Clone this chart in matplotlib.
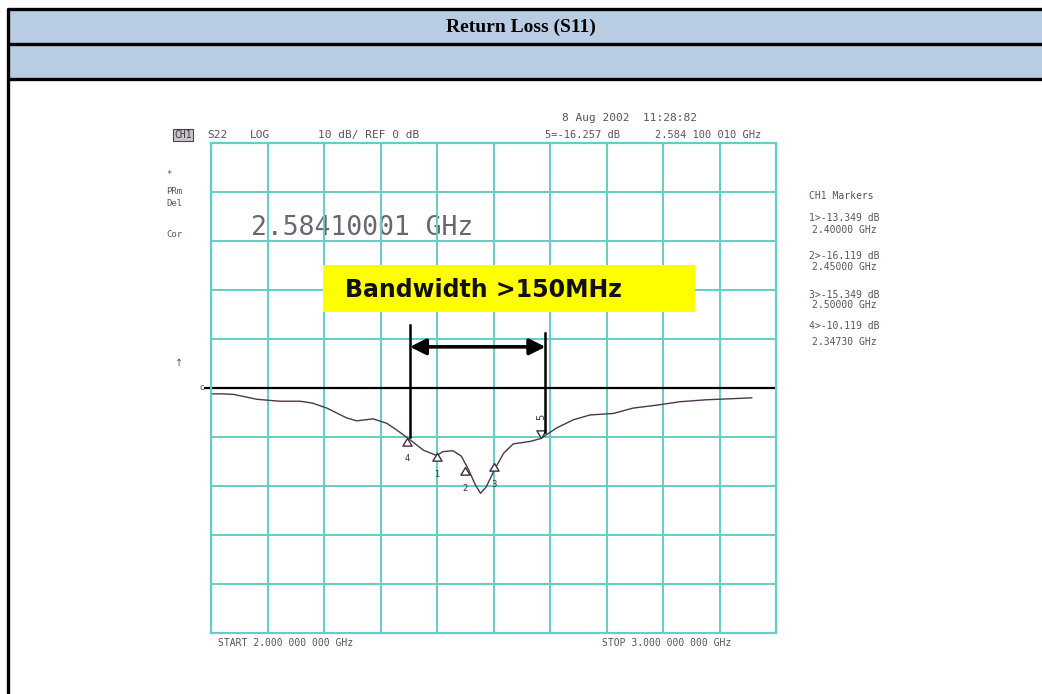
import matplotlib
matplotlib.use('Agg')
import matplotlib.pyplot as plt
from matplotlib.patches import Rectangle
import numpy as np

# S11 trace (GHz, dB)
freq_ghz = [2.000, 2.020, 2.040, 2.081, 2.122, 2.158, 2.180, 2.205, 2.240, 2.258,
            2.287, 2.311, 2.329, 2.347, 2.376, 2.400, 2.410, 2.428, 2.443, 2.456,
            2.468, 2.477, 2.487, 2.503, 2.518, 2.535, 2.565, 2.584, 2.611, 2.641,
            2.671, 2.712, 2.747, 2.789, 2.830, 2.877, 2.919, 2.957]
s11_db = [-1.2, -1.2, -1.3, -2.3, -2.7, -2.7, -3.1, -4.1, -6.1, -6.7,
          -6.3, -7.2, -8.6, -10.1, -12.7, -13.8, -13.0, -12.8, -13.9, -16.7,
          -19.8, -21.5, -20.2, -16.4, -13.3, -11.4, -10.9, -10.3, -8.2, -6.5,
          -5.5, -5.2, -4.1, -3.5, -2.8, -2.4, -2.2, -2.0]

# markers 1-4 plus the active marker 5
marker_ids = ['1', '2', '3', '4', '5']
marker_freq = [2.40000, 2.45000, 2.50000, 2.34730, 2.58410]
marker_db = [-13.349, -16.119, -15.349, -10.119, -10.257]
marker_lines = ['1>-13.349 dB', '2.40000 GHz', '2>-16.119 dB', '2.45000 GHz',
                '3>-15.349 dB', '2.50000 GHz', '4>-10.119 dB', '2.34730 GHz']
marker_line_y = [218, 230, 256, 267, 295, 305, 326, 342]

# bandwidth bracket as drawn on the screenshot
bw_edges = [2.352, 2.592]
bw_tops = [12.9, 11.2]
bw_bottoms = [-10.1, -9.0]
bw_arrow_db = 8.4

start_ghz, stop_ghz = 2.0, 3.0
ref_db, scale_db = 0, 10

W, H = 1042, 694
grid_col = '#62cfc6'
txt_col = '#5a5262'
mono = 'DejaVu Sans Mono'

fig = plt.figure(figsize=(W / 100, H / 100), dpi=100)

# background / table frame in pixel coordinates
bg = fig.add_axes([0, 0, 1, 1])
bg.set_xlim(0, W)
bg.set_ylim(H, 0)
bg.axis('off')
bg.set_zorder(0)
bg.add_patch(Rectangle((8, 9), W - 8, 34, facecolor='#b8cce4', edgecolor='none'))
bg.add_patch(Rectangle((8, 44), W - 8, 34, facecolor='#b8cce4', edgecolor='none'))
for yy in [9, 44, 79]:
    bg.plot([7, W], [yy, yy], color='black', lw=2.4, solid_capstyle='butt')
bg.plot([8, 8], [8, H], color='black', lw=2.4, solid_capstyle='butt')
bg.text(521, 27, 'Return Loss (S11)', ha='center', va='center', fontsize=14,
        fontweight='bold', family='Liberation Serif')

# instrument annotations
bg.text(562, 118, '8 Aug 2002  11:28:82', fontsize=8, family=mono, color=txt_col, va='center')
bg.text(183, 135, 'CH1', fontsize=7, family=mono, color='#3a3440', va='center', ha='center',
        bbox=dict(boxstyle='square,pad=0.15', facecolor='#c9c4cc', edgecolor='#4a4450', lw=0.8))
bg.text(207, 135, 'S22', fontsize=8, family=mono, color=txt_col, va='center')
bg.text(250, 135, 'LOG', fontsize=8, family=mono, color=txt_col, va='center')
bg.text(318, 135, '10 dB/ REF 0 dB', fontsize=8, family=mono, color=txt_col, va='center')
bg.text(545, 135, '5=-16.257 dB', fontsize=7.5, family=mono, color=txt_col, va='center')
bg.text(655, 135, '2.584 100 010 GHz', fontsize=7.5, family=mono, color=txt_col, va='center')

for lab, yy in [('*', 174), ('PRm', 191), ('Del', 203), ('Cor', 234)]:
    bg.text(166, yy, lab, fontsize=6.5, family=mono, color=txt_col, va='center')
bg.text(179, 363, '\u2191', fontsize=7, color=txt_col, va='center', ha='center')
bg.text(251, 228, '2.58410001 GHz', fontsize=19, family=mono, color='#6c6472', va='center')

bg.text(809, 196, 'CH1 Markers', fontsize=7, family=mono, color=txt_col, va='center')
for i, line in enumerate(marker_lines):
    bg.text(809 if i % 2 == 0 else 812, marker_line_y[i], line, fontsize=7, family=mono,
            color=txt_col, va='center')

bg.text(218, 643, 'START 2.000 000 000 GHz', fontsize=7, family=mono, color=txt_col, va='center')
bg.text(602, 643, 'STOP 3.000 000 000 GHz', fontsize=7, family=mono, color=txt_col, va='center')

# graticule
ax = fig.add_axes([211 / W, (H - 633) / H, 565 / W, 490 / H])
ax.set_zorder(1)
ax.set_facecolor('none')
ax.set_xlim(start_ghz, stop_ghz)
ax.set_ylim(ref_db - 5 * scale_db, ref_db + 5 * scale_db)
ax.set_xticks(np.linspace(start_ghz, stop_ghz, 11))
ax.set_yticks(np.arange(ref_db - 5 * scale_db, ref_db + 5 * scale_db + 1, scale_db))
ax.grid(True, color=grid_col, lw=1.4)
ax.tick_params(length=0, labelbottom=False, labelleft=False)
for sp in ax.spines.values():
    sp.set_color(grid_col)
    sp.set_linewidth(1.6)

# reference line and trace
ax.plot([start_ghz - 0.011, stop_ghz], [ref_db, ref_db], color='black', lw=1.6, clip_on=False)
ax.text(start_ghz - 0.012, ref_db, 'c', fontsize=6, color=txt_col, ha='right', va='center',
        clip_on=False)
ax.plot(freq_ghz, s11_db, color='#4f3650', lw=1.0)

# markers: triangles with tip on the trace
tri_up = [(0, 0), (-0.6, -1.0), (0.6, -1.0), (0, 0)]
tri_dn = [(0, 0), (-0.6, 1.0), (0.6, 1.0), (0, 0)]
for mid, f, v in zip(marker_ids, marker_freq, marker_db):
    if mid == '5':
        ax.plot([f], [v], marker=tri_dn, ms=11, mfc='white', mec='#3a3040', mew=1.0)
        ax.text(f, v + 4.4, mid, fontsize=7, color='#3a3040', ha='center', va='center', rotation=90)
    else:
        ax.plot([f], [v], marker=tri_up, ms=11, mfc='white', mec='#3a3040', mew=1.0)
        ax.text(f, v - 4.3, mid, fontsize=6, color='#3a3040', ha='center', va='center')

# bandwidth bracket
for f, top, bot in zip(bw_edges, bw_tops, bw_bottoms):
    ax.plot([f, f], [bot, top], color='black', lw=1.8)
ax.annotate('', xy=(bw_edges[1], bw_arrow_db), xytext=(bw_edges[0], bw_arrow_db),
            arrowprops=dict(arrowstyle='<|-|>', color='black', lw=2.6,
                            mutation_scale=24, shrinkA=0, shrinkB=0))

# yellow label box on top of the graticule
lab_ax = fig.add_axes([0, 0, 1, 1])
lab_ax.set_xlim(0, W)
lab_ax.set_ylim(H, 0)
lab_ax.axis('off')
lab_ax.set_zorder(2)
lab_ax.add_patch(Rectangle((323, 265), 372, 47, facecolor='#ffff00', edgecolor='none'))
lab_ax.text(345, 290, 'Bandwidth >150MHz', fontsize=17, fontweight='bold',
            family='DejaVu Sans', color='#111111', va='center', ha='left')

fig.savefig('out.png', dpi=100)
plt.close(fig)
